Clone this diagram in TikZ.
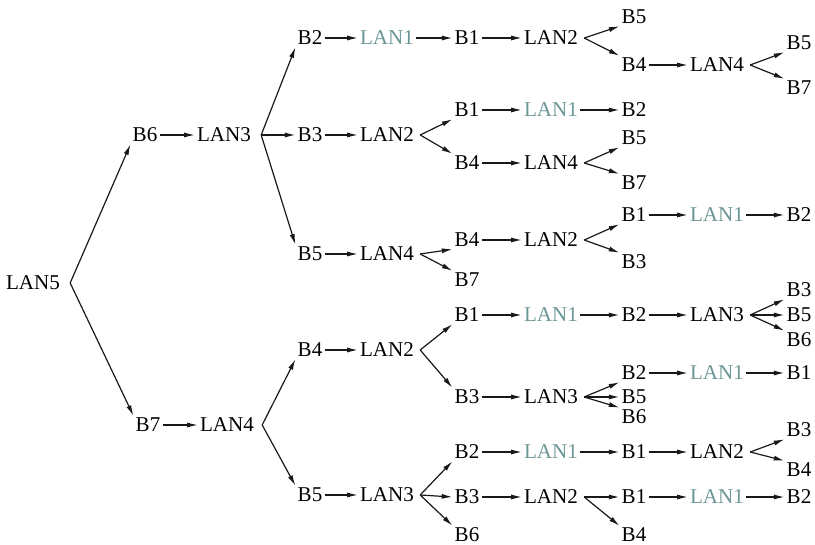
\documentclass[tikz,border=0pt]{standalone}
\usepackage{fontspec}
\setmainfont{Liberation Serif}
\usepackage{tikz}
\usetikzlibrary{arrows.meta}

\definecolor{lanteal}{RGB}{108,150,150}
\tikzset{
    lbl/.style={inner sep=1.5pt, font=\fontsize{15.8}{18}\selectfont},
    root/.style={lbl, text=lanteal},
    arr/.style={-{Latex[length=8pt,width=3.8pt]}, line width=0.9pt, black!90}
}

\begin{document}
\begin{tikzpicture}[x=0.75pt, y=-0.75pt]
\useasboundingbox (0,0) rectangle (815,545);

% levels 0 to 2
\node[lbl] (lan5) at (33,283) {LAN5};
\node[lbl] (b6a) at (145,135) {B6};
\node[lbl] (b7a) at (148,425) {B7};
\node[lbl] (lan3a) at (224,135) {LAN3};
\node[lbl] (lan4a) at (227,425) {LAN4};

% level 3
\node[lbl] (b2a) at (310,38) {B2};
\node[lbl] (b3a) at (310,135) {B3};
\node[lbl] (b5a) at (310,254) {B5};
\node[lbl] (b4a) at (310,350) {B4};
\node[lbl] (b5b) at (310,495) {B5};

% level 4
\node[root] (lan1a) at (387,38) {LAN1};
\node[lbl] (lan2a) at (387,135) {LAN2};
\node[lbl] (lan4b) at (387,254) {LAN4};
\node[lbl] (lan2b) at (387,350) {LAN2};
\node[lbl] (lan3b) at (387,495) {LAN3};

% level 5
\node[lbl] (b1a) at (467,38) {B1};
\node[lbl] (b1b) at (467,110) {B1};
\node[lbl] (b4b) at (467,163) {B4};
\node[lbl] (b4c) at (467,240) {B4};
\node[lbl] (b7b) at (467,280) {B7};
\node[lbl] (b1c) at (467,315) {B1};
\node[lbl] (b3b) at (467,397) {B3};
\node[lbl] (b2b) at (467,452) {B2};
\node[lbl] (b3c) at (467,497) {B3};
\node[lbl] (b6b) at (467,535) {B6};

% level 6
\node[lbl] (lan2c) at (551,38) {LAN2};
\node[root] (lan1b) at (551,110) {LAN1};
\node[lbl] (lan4c) at (551,163) {LAN4};
\node[lbl] (lan2d) at (551,240) {LAN2};
\node[root] (lan1c) at (551,315) {LAN1};
\node[lbl] (lan3c) at (551,397) {LAN3};
\node[root] (lan1d) at (551,452) {LAN1};
\node[lbl] (lan2e) at (551,497) {LAN2};

% level 7
\node[lbl] (b5c) at (634,17) {B5};
\node[lbl] (b4d) at (634,65) {B4};
\node[lbl] (b2c) at (634,110) {B2};
\node[lbl] (b5d) at (634,138) {B5};
\node[lbl] (b7c) at (634,183) {B7};
\node[lbl] (b1d) at (634,215) {B1};
\node[lbl] (b3d) at (634,262) {B3};
\node[lbl] (b2d) at (634,315) {B2};
\node[lbl] (b2e) at (634,373) {B2};
\node[lbl] (b5e) at (634,397) {B5};
\node[lbl] (b6c) at (634,417) {B6};
\node[lbl] (b1e) at (634,452) {B1};
\node[lbl] (b1f) at (634,497) {B1};
\node[lbl] (b4e) at (634,535) {B4};

% level 8
\node[lbl] (lan4d) at (717,65) {LAN4};
\node[root] (lan1e) at (717,215) {LAN1};
\node[lbl] (lan3d) at (717,315) {LAN3};
\node[root] (lan1f) at (717,373) {LAN1};
\node[lbl] (lan2f) at (717,452) {LAN2};
\node[root] (lan1g) at (717,497) {LAN1};

% level 9
\node[lbl] (b5f) at (799,43) {B5};
\node[lbl] (b7d) at (799,88) {B7};
\node[lbl] (b2f) at (799,215) {B2};
\node[lbl] (b3e) at (799,290) {B3};
\node[lbl] (b5g) at (799,315) {B5};
\node[lbl] (b6d) at (799,340) {B6};
\node[lbl] (b1g) at (799,373) {B1};
\node[lbl] (b3f) at (799,430) {B3};
\node[lbl] (b4f) at (799,470) {B4};
\node[lbl] (b2g) at (799,497) {B2};

% straight links
\foreach \s/\t in {b6a/lan3a, b7a/lan4a,
    b2a/lan1a, lan1a/b1a, b1a/lan2c, b4d/lan4d,
    b3a/lan2a, b1b/lan1b, lan1b/b2c, b4b/lan4c,
    b5a/lan4b, b4c/lan2d, b1d/lan1e, lan1e/b2f,
    b4a/lan2b, b1c/lan1c, lan1c/b2d, b2d/lan3d,
    b3b/lan3c, b2e/lan1f, lan1f/b1g,
    b5b/lan3b, b2b/lan1d, lan1d/b1e, b1e/lan2f,
    b3c/lan2e, b1f/lan1g, lan1g/b2g}
    \draw[arr] (\s) -- (\t);

% fan-out points
\coordinate (f-lan5) at ([xshift=6pt]lan5.east);
\coordinate (f-lan3a) at ([xshift=6pt]lan3a.east);
\coordinate (f-lan4a) at ([xshift=4.5pt]lan4a.east);
\coordinate (f-lan2a) at ([xshift=3pt]lan2a.east);
\coordinate (f-lan4b) at ([xshift=3pt]lan4b.east);
\coordinate (f-lan2b) at ([xshift=3pt]lan2b.east);
\coordinate (f-lan3b) at ([xshift=3pt]lan3b.east);
\coordinate (f-lan2c) at ([xshift=3pt]lan2c.east);
\coordinate (f-lan4c) at ([xshift=3pt]lan4c.east);
\coordinate (f-lan2d) at ([xshift=3pt]lan2d.east);
\coordinate (f-lan3c) at ([xshift=3pt]lan3c.east);
\coordinate (f-lan2e) at ([xshift=3pt]lan2e.east);
\coordinate (f-lan4d) at ([xshift=3pt]lan4d.east);
\coordinate (f-lan3d) at ([xshift=3pt]lan3d.east);
\coordinate (f-lan2f) at ([xshift=3pt]lan2f.east);

% fans
\foreach \f/\t/\a in {lan5/b6a/south west, lan5/b7a/north west,
    lan3a/b2a/south west, lan3a/b3a/west, lan3a/b5a/north west,
    lan4a/b4a/south west, lan4a/b5b/north west,
    lan2a/b1b/south west, lan2a/b4b/north west,
    lan4b/b4c/south west, lan4b/b7b/north west,
    lan2b/b1c/south west, lan2b/b3b/north west,
    lan3b/b2b/south west, lan3b/b3c/west, lan3b/b6b/north west,
    lan2c/b5c/south west, lan2c/b4d/north west,
    lan4c/b5d/south west, lan4c/b7c/north west,
    lan2d/b1d/south west, lan2d/b3d/north west,
    lan3c/b2e/south west, lan3c/b5e/west, lan3c/b6c/north west,
    lan2e/b1f/west, lan2e/b4e/north west,
    lan4d/b5f/south west, lan4d/b7d/north west,
    lan3d/b3e/south west, lan3d/b5g/west, lan3d/b6d/north west,
    lan2f/b3f/south west, lan2f/b4f/north west}
    \draw[arr] (f-\f) -- (\t.\a);
\end{tikzpicture}
\end{document}
